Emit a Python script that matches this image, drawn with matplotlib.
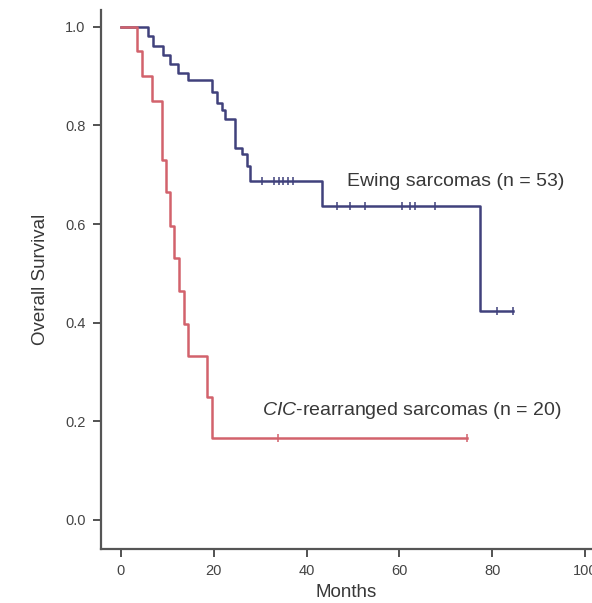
import numpy as np
import matplotlib
matplotlib.use("Agg")
import matplotlib.pyplot as plt

plt.rcParams['font.family'] = ['Liberation Sans', 'DejaVu Sans']
plt.rcParams['mathtext.fontset'] = 'custom'
plt.rcParams['mathtext.it'] = 'Liberation Sans:italic'
plt.rcParams['mathtext.rm'] = 'Liberation Sans'

# Ewing sarcomas: event times (months) and survival after each event
ewing_t = [0, 5.8, 7.0, 9.0, 10.5, 12.3, 14.5, 19.7, 20.7, 21.8, 22.4, 24.6, 26.1, 27.2, 27.8, 43.3, 77.4]
ewing_s = [1.0, 0.981, 0.962, 0.943, 0.925, 0.906, 0.893, 0.868, 0.846, 0.832, 0.812, 0.755, 0.741, 0.717, 0.688, 0.636, 0.423]
ewing_end = 84.5
ewing_cens = [30.4, 33.0, 34.0, 35.0, 36.0, 37.0, 46.6, 49.4, 52.6, 60.6, 62.3, 63.4, 67.7, 81.0, 84.5]

# CIC-rearranged sarcomas
cic_t = [0, 3.4, 4.5, 6.7, 8.8, 9.6, 10.6, 11.4, 12.4, 13.6, 14.4, 18.6, 19.6]
cic_s = [1.0, 0.95, 0.90, 0.85, 0.73, 0.664, 0.597, 0.531, 0.464, 0.398, 0.332, 0.249, 0.166]
cic_end = 74.6
cic_cens = [33.8, 74.6]

blue = '#40417c'
red = '#d2626c'
grey = '#444444'
txt = '#383838'


def surv_at(t, times, surv):
    i = np.searchsorted(times, t, side='right') - 1
    return surv[i]


fig = plt.figure(figsize=(5.92, 6.03), dpi=100)
ax = fig.add_axes([101 / 592, 54 / 603, 491 / 592, 539 / 603])

for times, surv, end, cens, col in [(ewing_t, ewing_s, ewing_end, ewing_cens, blue),
                                     (cic_t, cic_s, cic_end, cic_cens, red)]:
    xs = list(times) + [end]
    ys = list(surv) + [surv[-1]]
    ax.step(xs, ys, where='post', color=col, lw=1.8)
    cy = [surv_at(c, times, surv) for c in cens]
    ax.plot(cens, cy, ls='none', marker='|', ms=6, mew=1.1, color=col)

ax.text(48.7, 0.687, 'Ewing sarcomas (n = 53)', fontsize=14, color=txt, va='center')
ax.text(30.4, 0.222, r'$\mathit{CIC}$-rearranged sarcomas (n = 20)', fontsize=14,
        color=txt, va='center')

ax.set_xlim(-4.3, 101.5)
ax.set_ylim(-0.059, 1.034)
ax.set_xticks([0, 20, 40, 60, 80, 100])
ax.set_yticks([0.0, 0.2, 0.4, 0.6, 0.8, 1.0])
ax.set_yticklabels(['0.0', '0.2', '0.4', '0.6', '0.8', '1.0'])
ax.tick_params(direction='out', length=6, width=1.3, colors=grey, labelsize=10.5, pad=5)
ax.spines['top'].set_visible(False)
ax.spines['right'].set_visible(False)
for s in ['left', 'bottom']:
    ax.spines[s].set_color('#555555')
    ax.spines[s].set_linewidth(1.6)

ax.set_xlabel('Months', fontsize=13.5, color=txt, labelpad=4)
ax.set_ylabel('Overall Survival', fontsize=13.5, color=txt, labelpad=12)

fig.savefig('out.png', dpi=100)
